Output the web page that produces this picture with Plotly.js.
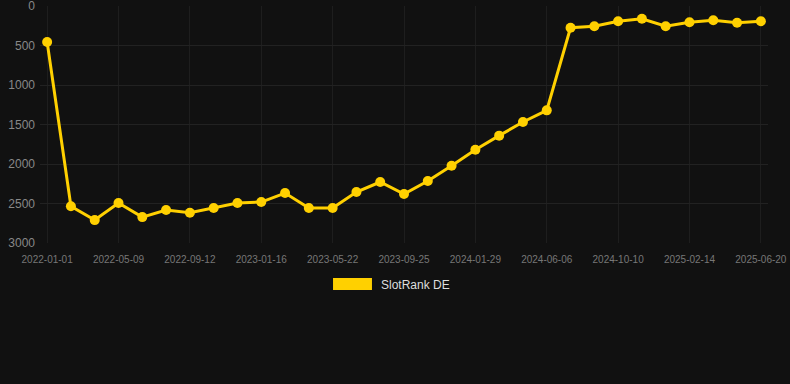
<!DOCTYPE html>
<html>
<head>
<meta charset="utf-8">
<script src="https://cdn.plot.ly/plotly-3.0.1.min.js"></script>
<style>
  html, body { margin: 0; padding: 0; background: #111111; }
  #chart { width: 790px; height: 384px; }
</style>
</head>
<body>
<div id="chart"></div>
<script>
const dates = [
  "2022-01-01","2022-02-13","2022-03-27","2022-05-09","2022-06-20","2022-08-01",
  "2022-09-12","2022-10-24","2022-12-05","2023-01-16","2023-02-27","2023-04-10",
  "2023-05-22","2023-07-03","2023-08-14","2023-09-25","2023-11-06","2023-12-18",
  "2024-01-29","2024-03-11","2024-04-24","2024-06-06","2024-07-18","2024-08-29",
  "2024-10-10","2024-11-21","2025-01-03","2025-02-14","2025-03-29","2025-05-09",
  "2025-06-20"
];
const slotRankDE = [
  455, 2535, 2710, 2494, 2672, 2583, 2617, 2558, 2494, 2482, 2368, 2558,
  2558, 2355, 2228, 2380, 2216, 2022, 1819, 1641, 1468, 1321, 276, 256,
  193, 162, 256, 205, 180, 213, 193
];
const tickDates = [
  "2022-01-01","2022-05-09","2022-09-12","2023-01-16","2023-05-22","2023-09-25",
  "2024-01-29","2024-06-06","2024-10-10","2025-02-14","2025-06-20"
];
const yTicks = [0, 500, 1000, 1500, 2000, 2500, 3000];
const seriesName = "SlotRank DE";
const lineColor = "#FFD000";

const trace = {
  x: dates,
  y: slotRankDE,
  type: "scatter",
  mode: "lines+markers",
  name: seriesName,
  showlegend: false,
  line: { color: lineColor, width: 3 },
  marker: { color: lineColor, size: 10 },
  hoverinfo: "x+y"
};

const layout = {
  width: 790,
  height: 384,
  paper_bgcolor: "#111111",
  plot_bgcolor: "#111111",
  margin: { l: 40, r: 22, t: 6, b: 141 },
  font: { family: "Liberation Sans, Arial, sans-serif", color: "#888888" },
  xaxis: {
    type: "category",
    range: [-0.3, dates.length - 0.7],
    tickmode: "array",
    tickvals: tickDates,
    ticktext: tickDates,
    tickfont: { size: 10, color: "#777777" },
    showgrid: true,
    gridcolor: "#1e1e1e",
    gridwidth: 1,
    zeroline: false,
    showline: false,
    ticks: "",
    ticklabelstandoff: 9,
    ticklabeloverflow: "allow"
  },
  yaxis: {
    range: [3000, 0],
    tickmode: "array",
    tickvals: yTicks,
    ticktext: yTicks.map(String),
    tickfont: { size: 12, color: "#888888" },
    showgrid: true,
    gridcolor: "#222222",
    gridwidth: 1,
    zeroline: false,
    showline: false,
    ticks: "",
    ticklabelstandoff: 4,
    ticklabeloverflow: "allow"
  },
  shapes: [{
    type: "rect", xref: "paper", yref: "paper",
    x0: 0.4025, x1: 0.456, y0: -0.198, y1: -0.148,
    fillcolor: lineColor, line: { width: 0 }
  }],
  annotations: [{
    xref: "paper", yref: "paper",
    x: 0.4657, y: -0.177, xanchor: "left", yanchor: "middle",
    text: seriesName, showarrow: false,
    font: { size: 12, color: "#dddddd" }
  }]
};

Plotly.newPlot("chart", [trace], layout, { displayModeBar: false, staticPlot: true });
</script>
</body>
</html>
